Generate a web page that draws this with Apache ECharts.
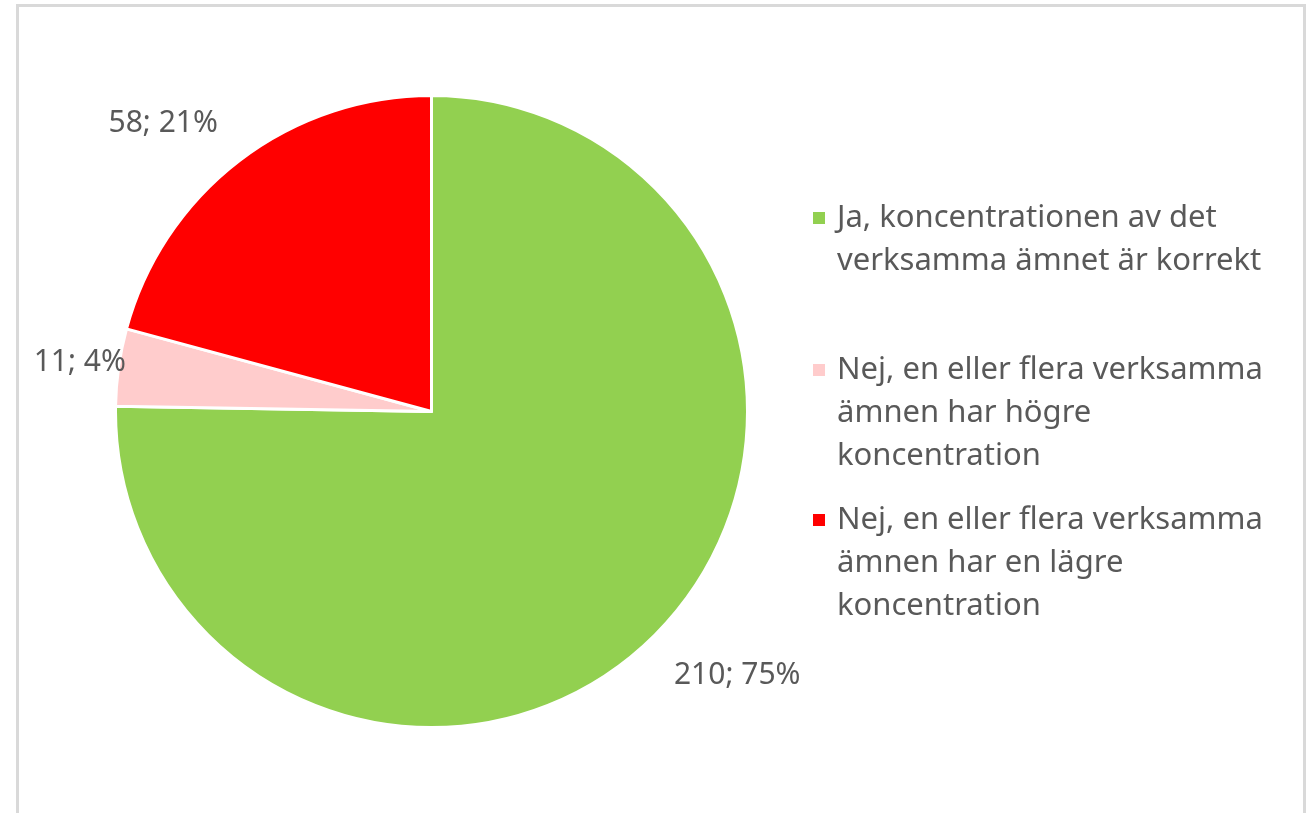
<!DOCTYPE html>
<html>
<head>
<meta charset="utf-8">
<script src="https://cdn.jsdelivr.net/npm/echarts@6/dist/echarts.min.js"></script>
<style>
  html, body { margin: 0; padding: 0; background: #fff; }
  #frame { position: absolute; left: 16px; top: 4px; width: 1284px; height: 830px; border: 3px solid #d9d9d9; }
  #chart { position: absolute; left: 0; top: 0; width: 1309px; height: 813px; }
</style>
</head>
<body>
<div id="frame"></div>
<div id="chart"></div>
<script>
const categories = [
  'Ja, koncentrationen av det\nverksamma ämnet är korrekt',
  'Nej, en eller flera verksamma\nämnen har högre\nkoncentration',
  'Nej, en eller flera verksamma\nämnen har en lägre\nkoncentration'
];
const counts = [210, 11, 58];
const colors = ['#92d050', '#ffcccc', '#ff0000'];

// label placement per slice (radial / tangential offsets)
const labelLen = [54, 31, 47];
const labelLen2 = [-17, -38, -7];
// first-line centre of each legend entry
const legendTops = [218, 370, 520];

const FONT = '"Noto Sans", sans-serif';
const LH = 43;

const chart = echarts.init(document.getElementById('chart'));

const legends = categories.map(function (name, i) {
  const n = name.split('\n').length;
  return {
    orient: 'vertical',
    left: 811,
    top: legendTops[i] - (2 * n - 1) * LH / 2,
    padding: 0,
    itemWidth: 14,
    itemHeight: 14,
    icon: 'rect',
    data: [name],
    selectedMode: false,
    formatter: function (t) {
      return '\n'.repeat(n - 1) + t;
    },
    textStyle: {
      fontFamily: FONT,
      fontSize: 31,
      color: '#595959',
      lineHeight: LH,
      padding: [0, 0, 0, 6]
    }
  };
});

const option = {
  animation: false,
  legend: legends,
  series: [
    {
      type: 'pie',
      center: [431.5, 411.5],
      radius: 316,
      startAngle: 90,
      clockwise: true,
      avoidLabelOverlap: false,
      itemStyle: { borderColor: '#fff', borderWidth: 3 },
      label: {
        show: true,
        position: 'outside',
        distanceToLabelLine: 0,
        fontFamily: FONT,
        fontSize: 30,
        color: '#595959',
        formatter: function (p) {
          return p.value + '; ' + Math.round(p.percent) + '%';
        }
      },
      labelLine: { show: false },
      emphasis: { disabled: true },
      data: categories.map(function (name, i) {
        return {
          name: name,
          value: counts[i],
          itemStyle: { color: colors[i] },
          labelLine: { show: false, length: labelLen[i], length2: labelLen2[i] }
        };
      })
    }
  ]
};

chart.setOption(option);
</script>
</body>
</html>
